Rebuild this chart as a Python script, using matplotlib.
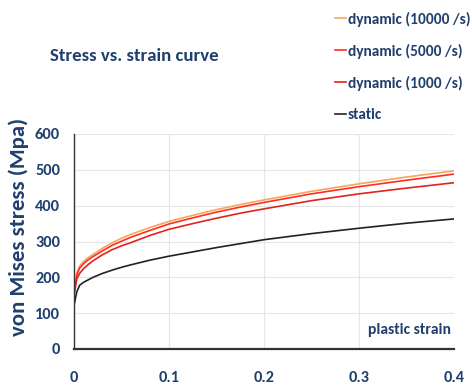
import matplotlib
matplotlib.use("Agg")
import matplotlib.pyplot as plt

strain = [0, 0.003, 0.006, 0.01, 0.015, 0.02, 0.03, 0.04, 0.05, 0.06, 0.08,
          0.1, 0.125, 0.15, 0.175, 0.2, 0.25, 0.3, 0.35, 0.4]
dyn_10000 = [160, 212, 232, 244, 255, 264, 281, 296, 309, 320, 339,
             356, 373, 389, 403, 416, 440, 461, 480, 497]
dyn_5000 = [155, 207, 226, 238, 249, 258, 274, 289, 301, 312, 331,
            349, 366, 382, 396, 409, 433, 453, 471, 488]
dyn_1000 = [150, 196, 211, 224, 236, 246, 263, 277, 288, 297, 317,
            334, 350, 365, 379, 391, 414, 433, 449, 464]
static = [122, 160, 178, 186, 193, 200, 211, 220, 228, 235, 248,
          259, 271, 283, 294, 305, 322, 337, 351, 363]

series = [("dynamic (10000 /s)", dyn_10000, "#F7A55A"),
          ("dynamic (5000 /s)", dyn_5000, "#FF2D20"),
          ("dynamic (1000 /s)", dyn_1000, "#E3221C"),
          ("static", static, "#222222")]

xticks = [0, 0.1, 0.2, 0.3, 0.4]
xticklabels = ["0", "0.1", "0.2", "0.3", "0.4"]
yticks = [0, 100, 200, 300, 400, 500, 600]

txt = "#1F3F6E"
font = ["Carlito", "Roboto Condensed", "Liberation Sans Narrow", "Roboto", "DejaVu Sans"]

W, H = 472, 389
fig = plt.figure(figsize=(W / 100, H / 100), dpi=100)
r = fig.canvas.get_renderer()


def fit(s, target, weight="normal"):
    t = fig.text(0, 0, s, fontsize=10, family=font, fontweight=weight)
    e = t.get_window_extent(r)
    t.remove()
    return 10 * target / e.width


ax = fig.add_axes([74 / W, 1 - 349 / H, (454 - 74) / W, (349 - 134) / H])

for label, vals, col in series:
    ax.plot(strain, vals, color=col, lw=1.2, label=label)

ax.set_xlim(0, 0.4)
ax.set_ylim(0, 600)
ax.set_xticks(xticks)
ax.set_xticklabels(xticklabels)
ax.set_yticks(yticks)
ax.grid(True, color="#E6E6E6", lw=0.8)
ax.set_axisbelow(True)
for s in ["top", "right"]:
    ax.spines[s].set_visible(False)
ax.spines["left"].set_color("#333333")
ax.spines["bottom"].set_color("#333333")
ax.spines["bottom"].set_linewidth(1.6)
ax.spines["left"].set_linewidth(1.0)

tick_fs = fit("600", 25, "bold")
ax.tick_params(length=0, labelsize=tick_fs, labelcolor=txt)
ax.tick_params(axis="x", pad=16)
ax.tick_params(axis="y", pad=10)
for t in ax.get_xticklabels() + ax.get_yticklabels():
    t.set_fontweight("bold")
    t.set_family(font)

yl_fs = fit("von Mises stress (Mpa)", 218, "bold")
ax.set_ylabel("von Mises stress (Mpa)", fontsize=yl_fs, fontweight="bold", color=txt, family=font)
ax.yaxis.set_label_coords((19 - 74) / 380, (349 - 227) / 215)
ax.yaxis.label.set_va("center")

ps_fs = fit("plastic strain", 83, "bold")
ax.text((451 - 74) / 380, (349 - 330) / 215, "plastic strain", transform=ax.transAxes,
        ha="right", va="center", fontsize=ps_fs, color=txt, family=font, fontweight="bold")

ti_fs = fit("Stress vs. strain curve", 168, "bold")
fig.text(50 / W, 1 - 56 / H, "Stress vs. strain curve", fontsize=ti_fs, fontweight="bold",
         color=txt, family=font, va="center", ha="left")

lg_fs = fit("dynamic (10000 /s)", 123, "semibold")
targets = [19, 52, 84, 115]


def make_legend(ls, ax_x, ax_y):
    return fig.legend(loc="upper left", bbox_to_anchor=(ax_x, ax_y), frameon=False,
                      handlelength=0.75, handletextpad=0.1, labelspacing=ls,
                      prop={"family": font, "size": lg_fs, "weight": "semibold"},
                      labelcolor=txt, borderaxespad=0, borderpad=0)


ls = 1.0
bx, by = 333 / W, 1 - 8 / H
leg = make_legend(ls, bx, by)
for _ in range(3):
    fig.canvas.draw()
    texts = leg.get_texts()
    e0 = texts[0].get_window_extent(r)
    e3 = texts[-1].get_window_extent(r)
    c0 = H - (e0.y0 + e0.y1) / 2
    c3 = H - (e3.y0 + e3.y1) / 2
    d = c3 - c0
    ls = ls + (targets[-1] - targets[0] - d) / 3 / (lg_fs * 100 / 72)
    bx = bx + (348 - e0.x0) / W
    by = by - (targets[0] - c0) / H
    leg.remove()
    leg = make_legend(ls, bx, by)

fig.savefig("out.png", dpi=100)
